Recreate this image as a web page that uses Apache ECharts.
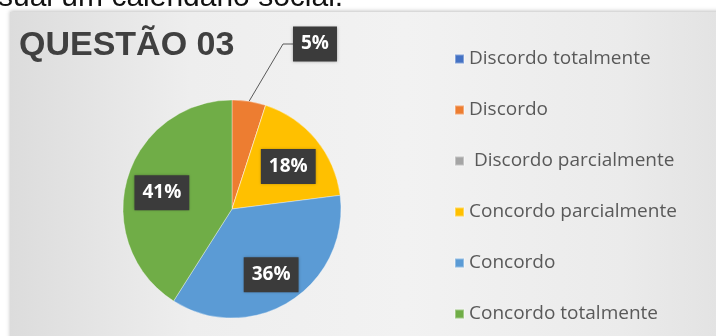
<!DOCTYPE html>
<html>
<head>
<meta charset="utf-8">
<script src="https://cdn.jsdelivr.net/npm/echarts@6/dist/echarts.min.js"></script>
<style>
html,body{margin:0;padding:0;background:#fff;}
#chart{width:716px;height:336px;}
</style>
</head>
<body>
<div id="chart"></div>
<script>
// ---- data ----
const pageCaption = 'sual um calendário social.';
const chartTitle = 'QUESTÃO 03';
const categories = ['Discordo totalmente', 'Discordo', ' Discordo parcialmente', 'Concordo parcialmente', 'Concordo', 'Concordo totalmente'];
const values = [0, 5, 0, 18, 36, 41];
const colors = ['#4472C4', '#ED7D31', '#A5A5A5', '#FFC000', '#5B9BD5', '#70AD47'];

// ---- build ----
const PIE_CX = 232, PIE_CY = 209, PIE_R = 109;

const data = categories.map((name, i) => {
  const v = values[i];
  const item = { name: name, value: v, itemStyle: { color: colors[i] } };
  if (v === 0) {
    item.label = { show: false };
    item.labelLine = { show: false };
  } else if (v < 10) {
    item.label = { show: true, position: 'outside' };
    item.labelLine = { show: true };
  } else {
    item.label = { show: true, position: 'inside' };
    item.labelLine = { show: false };
  }
  return item;
});

const chart = echarts.init(document.getElementById('chart'), null, { renderer: 'canvas' });

chart.setOption({
  backgroundColor: '#ffffff',
  animation: false,
  color: colors,
  graphic: [
    {
      type: 'rect', z: 0, silent: true,
      shape: { x: 10, y: 12, width: 720, height: 340 },
      style: {
        fill: new echarts.graphic.LinearGradient(0, 0, 1, 0, [
          { offset: 0, color: '#dcdcdc' },
          { offset: 0.25, color: '#eeeeee' },
          { offset: 0.55, color: '#f2f2f2' },
          { offset: 0.85, color: '#ebebeb' },
          { offset: 1, color: '#e2e2e2' }
        ]),
        shadowBlur: 4, shadowColor: 'rgba(0,0,0,0.25)', shadowOffsetY: -1
      }
    },
    {
      type: 'text', z: 5, silent: true,
      x: -2, y: 13,
      style: {
        text: pageCaption,
        fill: '#111111',
        font: '30px "Liberation Sans", Arial, sans-serif',
        verticalAlign: 'bottom'
      }
    },
    {
      type: 'text', z: 5, silent: true,
      x: 19, y: 29,
      style: {
        text: chartTitle,
        fill: '#404040',
        font: 'bold 34px "Liberation Sans", Arial, sans-serif',
        verticalAlign: 'top'
      }
    }
  ],
  legend: {
    orient: 'vertical',
    left: 449,
    top: 43,
    itemWidth: 9,
    itemHeight: 9,
    itemGap: 29,
    icon: 'rect',
    data: categories,
    textStyle: {
      fontFamily: '"Open Sans", sans-serif',
      fontSize: 19,
      lineHeight: 22,
      color: '#595959'
    }
  },
  series: [{
    type: 'pie',
    center: [PIE_CX, PIE_CY],
    radius: [0, PIE_R],
    startAngle: 90,
    clockwise: true,
    percentPrecision: 0,
    avoidLabelOverlap: false,
    itemStyle: { borderColor: 'rgba(255,255,255,0.35)', borderWidth: 1 },
    label: {
      formatter: '{d}%',
      color: '#ffffff',
      fontFamily: '"Open Sans", sans-serif',
      fontWeight: 'bold',
      fontSize: 19,
      lineHeight: 22,
      backgroundColor: '#3b3b3b',
      padding: [7, 8, 6, 8],
      shadowBlur: 3,
      shadowColor: 'rgba(0,0,0,0.35)'
    },
    labelLine: {
      length: 40,
      length2: 10,
      lineStyle: { color: '#595959', width: 1 }
    },
    labelLayout: function (p) {
      const v = values[p.dataIndex];
      const cx = p.labelRect.x + p.labelRect.width / 2;
      const cy = p.labelRect.y + p.labelRect.height / 2;
      if (v > 0 && v < 10) {
        return { x: 315, y: 44, align: 'center', verticalAlign: 'middle' };
      }
      return { dx: (cx - PIE_CX) * 0.27, dy: (cy - PIE_CY) * 0.27 + 4 };
    },
    data: data
  }]
});
</script>
</body>
</html>
